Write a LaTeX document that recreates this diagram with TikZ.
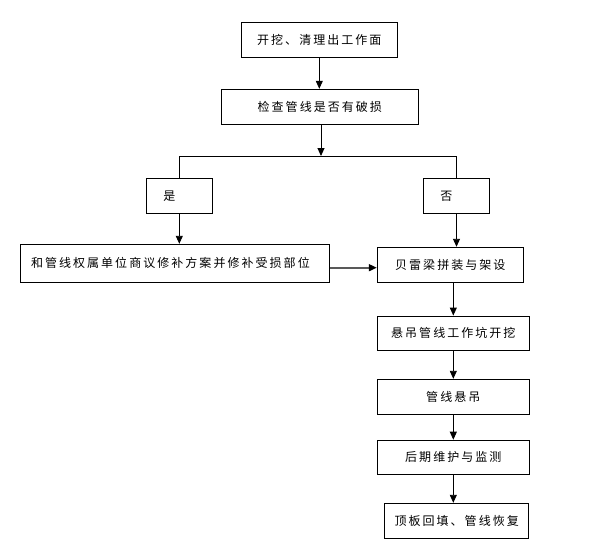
\documentclass[tikz,border=0pt]{standalone}
\usepackage{fontspec}
\newfontfamily\cjk[LetterSpace=17]{Noto Sans CJK SC}
\usetikzlibrary{arrows.meta}
\tikzset{
  box/.style={draw,line width=1pt,inner sep=0pt,minimum height=35pt},
  leftbox/.style={box,align=left,inner xsep=#1},
  arr/.style={line width=0.9pt,-{Triangle[length=8pt,width=7pt,color=black]}}
}
\begin{document}
\begin{tikzpicture}[x=1pt,y=-1pt,font=\cjk\fontsize{12pt}{14pt}\selectfont]
                \useasboundingbox (0,0) rectangle (593,548);
                \node[box,minimum width=156pt] (dig) at (319.3,39.8) {开挖、清理出工作面};
                \node[box,minimum width=197pt] (check) at (319.8,106.8) {检查管线是否有破损};
                \node[leftbox=17pt,text width=32pt] (yes) at (179.3,195.8) {是};
                \node[leftbox=17pt,text width=32.4pt] (no) at (456.5,195.8) {否};
                \node[leftbox=10.7pt,text width=287.6pt,minimum height=38pt] (repair) at (174.8,263.3) {和管线权属单位商议修补方案并修补受损部位};
                \node[box,minimum width=146pt] (beam) at (450.3,264.8) {贝雷梁拼装与架设};
                \node[box,minimum width=152pt,minimum height=34.3pt] (pit) at (453.3,333.2) {悬吊管线工作坑开挖};
                \node[box,minimum width=152pt] (hang) at (453.3,396.8) {管线悬吊};
                \node[box,minimum width=152pt,minimum height=34pt] (monitor) at (453.3,457.2) {后期维护与监测};
                \node[box,minimum width=144pt] (refill) at (456.7,520.8) {顶板回填、管线恢复};
                \coordinate (split) at (321,156);
                \draw[arr] (dig.south) -- (dig.south |- check.north);
                \draw[arr] (split |- check.south) -- (split);
                \draw[line width=0.9pt] (yes.north) -- (yes.north |- split) -- (no.north |- split) -- (no.north);
                \draw[arr] (yes.south) -- (yes.south |- repair.north);
                \draw[arr] (no.south) -- (no.south |- beam.north);
                \draw[arr,draw=black!65,line width=1.6pt] ([yshift=-4.4pt]repair.east) -- ([yshift=-4.4pt]repair.east -| beam.west);
                \draw[arr] (pit.north |- beam.south) -- (pit.north);
                \draw[arr] (pit.south) -- (hang.north);
                \draw[arr] (hang.south) -- (monitor.north);
                \draw[arr] (monitor.south) -- (monitor.south |- refill.north);
            \end{tikzpicture}
\end{document}
